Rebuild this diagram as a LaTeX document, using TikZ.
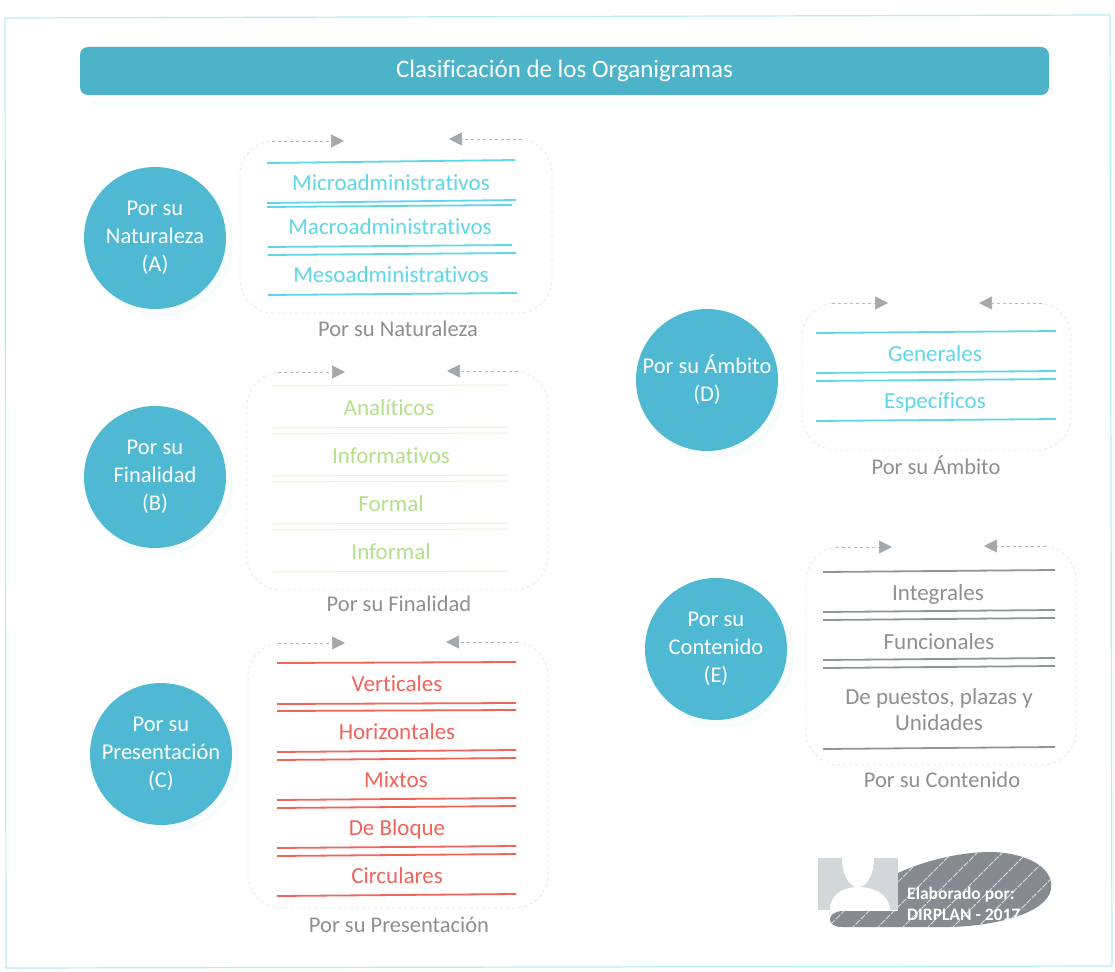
\documentclass[tikz,border=0pt]{standalone}
\usepackage{fontspec}
\setmainfont{Carlito}[Ligatures=NoCommon]
\usetikzlibrary{arrows.meta}
\definecolor{cyanL}{HTML}{5FD6EA}
\definecolor{greenL}{HTML}{B4E08A}
\definecolor{greenP}{HTML}{E6F2D0}
\definecolor{redL}{HTML}{F0645A}
\definecolor{greyL}{HTML}{8E969C}
\definecolor{capt}{HTML}{8F8F8F}
\definecolor{discC}{HTML}{4FB9D3}
\definecolor{barC}{HTML}{4DB3C9}
\definecolor{frameC}{HTML}{B5EEF0}
\definecolor{dashB}{HTML}{E6E6E6}
\definecolor{dashT}{HTML}{B8B8B8}
\definecolor{arrowC}{HTML}{A4A9AD}
\definecolor{blobC}{HTML}{858B90}
\definecolor{photo}{HTML}{D2D8DA}
\tikzset{
  x=1pt,y=-1pt,
  discnode/.style={circle,fill=discC,text=white,minimum size=142pt,inner sep=0pt,align=center,font=\fontsize{22.5}{28}\selectfont},
  discglow/.style={circle,draw=frameC!35,densely dotted,line width=1pt,fill=frameC!6,minimum size=142pt,inner sep=0pt},
  itemtext/.style={font=\fontsize{23}{26}\selectfont,inner sep=0pt,yshift=-1pt},
  captext/.style={font=\fontsize{22.5}{24}\selectfont,text=capt,inner sep=0pt},
  ruleline/.style={line width=1.8pt},
  softbox/.style={dashB,dashed,line width=.7pt,rounded corners=34pt},
  dashpin/.style={dashT,dashed,line width=.7pt,-{Triangle[length=13pt,width=13pt,color=arrowC,fill=arrowC]}},
}
\begin{document}
\begin{tikzpicture}
\useasboundingbox (0,0) rectangle (1115,971);
\fill[white] (0,0) rectangle (1115,971);
% frame
\draw[frameC,line width=1.2pt] (5,18) -- (1110,15) -- (1112,966) -- (6,968) -- cycle;
% title
\fill[frameC!10] (90,100) rectangle (1035,105);
\node[fill=barC,rounded corners=8pt,minimum width=969pt,minimum height=48pt,inner sep=0pt,text=white,font=\fontsize{25}{28}\selectfont] (title) at (564.5,71) {Clasificación de los Organigramas};
% discs
\node[discglow] at (161,244) {};
\node[discglow] at (161,483) {};
\node[discglow] at (167,760) {};
\node[discglow] at (713,386) {};
\node[discglow] at (722,655) {};
\node[discnode] (dA) at (155,238) {Por su\\Naturaleza\\(A)};
\node[discnode] (dB) at (155,477) {Por su\\Finalidad\\(B)};
\node[discnode] (dC) at (161,754) {Por su\\Presentación\\(C)};
\node[discnode] (dD) at (707,380) {Por su Ámbito\\(D)};
\node[discnode] (dE) at (716,649) {Por su\\Contenido\\(E)};
% box A
\coordinate (a1) at (344,141); \coordinate (a2) at (449,139);
\draw[softbox] (300,141) -- (240,141) -- (240,313) -- (552,313) -- (552,139) -- (490,139);
\draw[dashpin] (272,141) -- (a1);
\draw[dashpin] (522,139) -- (a2);
\begin{scope}[cyanL,ruleline]
\draw (267,163) -- (515,160);
\draw (267,203) -- (516,200);
\draw (267,207) -- (512,205);
\draw (268,247) -- (512,245);
\draw (268,255) -- (516,253);
\draw (268,295) -- (517,293);
\end{scope}
\node[itemtext,text=cyanL] (a11) at (391,182) {Microadministrativos};
\node[itemtext,text=cyanL] (a12) at (390,226) {Macroadministrativos};
\node[itemtext,text=cyanL] (a13) at (391,274) {Mesoadministrativos};
\node[captext] (a14) at (398,329) {Por su Naturaleza};
% box B
\coordinate (b1) at (345,372); \coordinate (b2) at (447,371);
\draw[softbox] (300,372) -- (247,372) -- (247,590) -- (548,590) -- (548,371) -- (490,371);
\draw[dashpin] (278,372) -- (b1);
\draw[dashpin] (518,371) -- (b2);
\begin{scope}[greenP,line width=1pt]
\draw (272,386) -- (507,385);
\draw (272,428) -- (507,427);
\draw (272,434) -- (507,433);
\draw (272,476) -- (507,475);
\draw (272,482) -- (508,481);
\draw (272,524) -- (508,523);
\draw (272,530) -- (508,529);
\draw (272,572) -- (508,571);
\end{scope}
\node[itemtext,text=greenL] (b11) at (389,407) {Analíticos};
\node[itemtext,text=greenL] (b12) at (391,455) {Informativos};
\node[itemtext,text=greenL] (b13) at (391,503) {Formal};
\node[itemtext,text=greenL] (b14) at (391,551) {Informal};
\node[captext] (b15) at (399,604) {Por su Finalidad};
% box C
\coordinate (c1) at (345,643); \coordinate (c2) at (446,642);
\draw[softbox] (300,643) -- (248,643) -- (248,908) -- (548,908) -- (548,642) -- (490,642);
\draw[dashpin] (278,643) -- (c1);
\draw[dashpin] (518,642) -- (c2);
\begin{scope}[redL,ruleline]
\draw (277,663) -- (516,662);
\draw (277,704) -- (516,703);
\draw (277,711) -- (516,710);
\draw (277,752) -- (516,750);
\draw (277,760) -- (516,758);
\draw (277,800) -- (516,798);
\draw (277,808) -- (516,806);
\draw (277,848) -- (516,846);
\draw (277,856) -- (516,854);
\draw (277,896) -- (516,894);
\end{scope}
\node[itemtext,text=redL] (c11) at (397,683) {Verticales};
\node[itemtext,text=redL] (c12) at (397,731) {Horizontales};
\node[itemtext,text=redL] (c13) at (396,779) {Mixtos};
\node[itemtext,text=redL] (c14) at (397,828) {De Bloque};
\node[itemtext,text=redL] (c15) at (397,875) {Circulares};
\node[captext] (c16) at (399,925) {Por su Presentación};
% box D
\coordinate (d1) at (888,303); \coordinate (d2) at (979,303);
\draw[softbox] (850,303) -- (802,303) -- (802,450) -- (1071,450) -- (1071,303) -- (1025,303);
\draw[dashpin] (832,303) -- (d1);
\draw[dashpin] (1042,303) -- (d2);
\begin{scope}[cyanL,ruleline]
\draw (816,333) -- (1056,331);
\draw (816,373) -- (1056,371);
\draw (816,381) -- (1056,379);
\draw (816,421) -- (1056,419);
\end{scope}
\node[itemtext,text=cyanL] (d11) at (935,353) {Generales};
\node[itemtext,text=cyanL] (d12) at (935,401) {Específicos};
\node[captext] (d13) at (936,465) {Por su Ámbito};
% box E
\coordinate (e1) at (892,547); \coordinate (e2) at (984,546);
\draw[softbox] (850,547) -- (806,547) -- (806,765) -- (1076,765) -- (1076,546) -- (1030,546);
\draw[dashpin] (836,547) -- (e1);
\draw[dashpin] (1046,546) -- (e2);
\begin{scope}[greyL,ruleline]
\draw (823,572) -- (1055,570);
\draw (823,612) -- (1055,610);
\draw (823,620) -- (1055,618);
\draw (823,660) -- (1055,658);
\draw (823,668) -- (1055,666);
\draw (823,749) -- (1055,747);
\end{scope}
\node[itemtext,text=capt] (e11) at (938,593) {Integrales};
\node[itemtext,text=capt] (e12) at (939,641) {Funcionales};
\node[itemtext,text=capt,align=center] (e13) at (939,709) {De puestos, plazas y\\Unidades};
\node[captext] (e14) at (942,780) {Por su Contenido};
% footer
\def\blobpath{(898,873) .. controls (930,858) and (975,849) .. (1005,853)
  .. controls (1040,858) and (1056,875) .. (1050,893)
  .. controls (1040,916) and (990,926) .. (950,927)
  -- (842,927) .. controls (826,927) and (826,912) .. (842,911) -- (898,911) -- cycle}
\path[fill=blobC] \blobpath;
\begin{scope}
\clip \blobpath;
\foreach \k in {0,25,...,275}
  \draw[white!70!blobC,line width=1pt,dash pattern=on 6pt off 1.5pt] (820+\k,935) -- (915+\k,840);
\end{scope}
\fill[photo] (818,858) rectangle (898,910);
\fill[white] (858,859) ellipse[x radius=16pt,y radius=28pt];
\fill[white] (830,910) .. controls (830,893) and (845,887) .. (858,887) .. controls (872,887) and (889,893) .. (890,910) -- cycle;
\node[text=white,align=left,anchor=west,inner sep=0pt,font=\bfseries\fontsize{17.5}{20.5}\selectfont] (foot) at (907,904) {Elaborado por:\\DIRPLAN - 2017};
\end{tikzpicture}
\end{document}
